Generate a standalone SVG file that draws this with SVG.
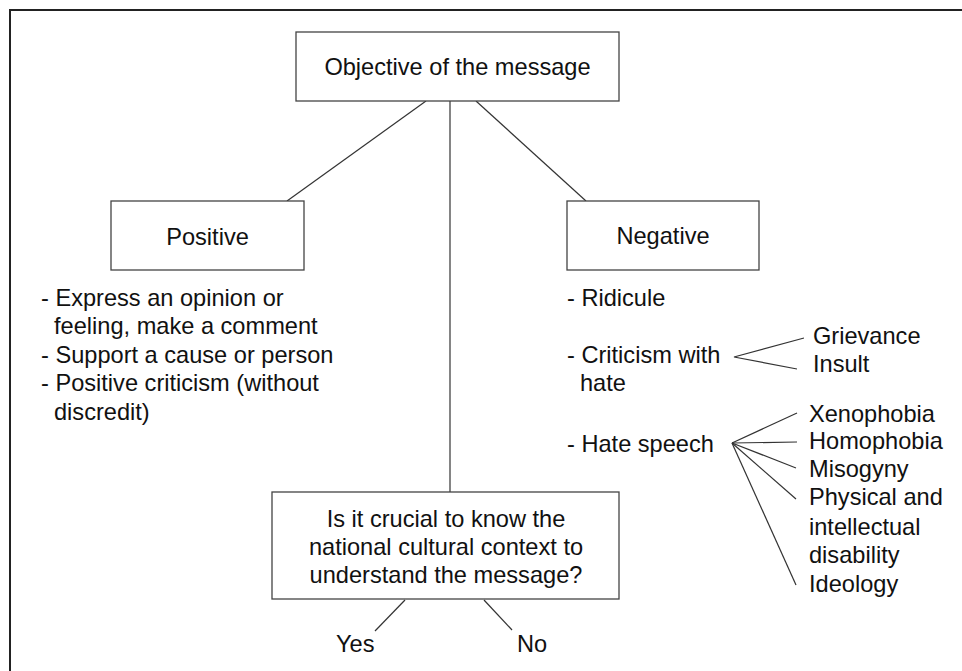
<svg xmlns="http://www.w3.org/2000/svg" width="962" height="671" viewBox="0 0 962 671">
<style>
.box{fill:#fff;stroke:#444;stroke-width:1.3}
.t{font-family:"Liberation Sans",Arial,sans-serif;font-size:23.6px;fill:#111}
.c{text-anchor:middle}
.ln{stroke:#333;stroke-width:1.2;fill:none}
</style>
<rect x="0" y="0" width="962" height="671" fill="#fff"/>
<path d="M10,671 V10 H962" fill="none" stroke="#222" stroke-width="2"/>
<g id="connectors" class="ln">
<line x1="426" y1="101" x2="287" y2="201"/>
<line x1="450" y1="101" x2="450" y2="492"/>
<line x1="476" y1="101" x2="586" y2="201"/>
<line x1="405" y1="600" x2="375" y2="631"/>
<line x1="484" y1="600" x2="512" y2="630"/>
<polyline points="804,338 734,357 797,369"/>
<line x1="732" y1="443" x2="797" y2="413"/>
<line x1="732" y1="443" x2="797" y2="442"/>
<line x1="732" y1="443" x2="796" y2="468"/>
<line x1="732" y1="443" x2="796" y2="499"/>
<line x1="732" y1="443" x2="796" y2="585"/>
</g>
<g id="objective">
<rect class="box" x="296" y="32" width="323" height="69"/>
<text class="t c" x="457.5" y="75">Objective of the message</text>
</g>
<g id="positive">
<rect class="box" x="111" y="201" width="193" height="69"/>
<text class="t c" x="207.5" y="245">Positive</text>
</g>
<g id="positive-list">
<text class="t" x="41" y="306">- Express an opinion or</text>
<text class="t" x="54" y="334">feeling, make a comment</text>
<text class="t" x="41" y="363">- Support a cause or person</text>
<text class="t" x="41" y="391">- Positive criticism (without</text>
<text class="t" x="54" y="420">discredit)</text>
</g>
<g id="negative">
<rect class="box" x="567" y="201" width="192" height="69"/>
<text class="t c" x="663" y="244">Negative</text>
</g>
<g id="negative-list">
<text class="t" x="567" y="306">- Ridicule</text>
<text class="t" x="567" y="363">- Criticism with</text>
<text class="t" x="580" y="391">hate</text>
<text class="t" x="567" y="452">- Hate speech</text>
</g>
<g id="criticism-types">
<text class="t" x="813" y="344">Grievance</text>
<text class="t" x="813" y="372">Insult</text>
</g>
<g id="hate-types">
<text class="t" x="809" y="422">Xenophobia</text>
<text class="t" x="809" y="449">Homophobia</text>
<text class="t" x="809" y="477">Misogyny</text>
<text class="t" x="809" y="505">Physical and</text>
<text class="t" x="809" y="535">intellectual</text>
<text class="t" x="809" y="563">disability</text>
<text class="t" x="809" y="592">Ideology</text>
</g>
<g id="question">
<rect class="box" x="272" y="492" width="347" height="107"/>
<text class="t c" x="446" y="527">Is it crucial to know the</text>
<text class="t c" x="446" y="555">national cultural context to</text>
<text class="t c" x="446" y="583">understand the message?</text>
</g>
<g id="yes"><text class="t" x="336" y="652">Yes</text></g>
<g id="no"><text class="t" x="517" y="652">No</text></g>
</svg>
